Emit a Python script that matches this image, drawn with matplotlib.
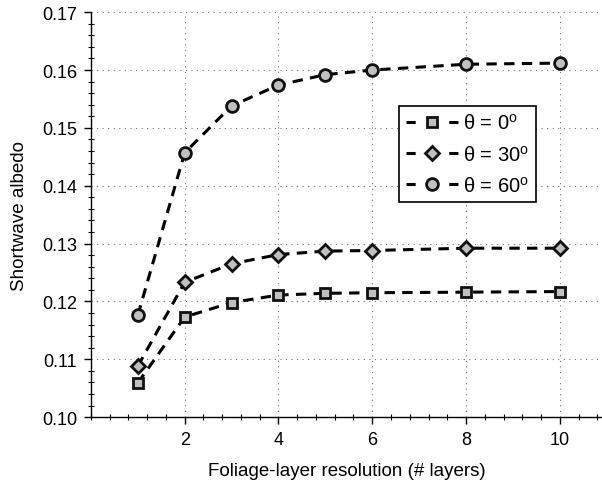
import numpy as np
import matplotlib
import matplotlib.pyplot as plt
from matplotlib.ticker import MultipleLocator

matplotlib.use("Agg")

plt.rcParams["font.family"] = ["Liberation Sans", "DejaVu Sans"]
plt.rcParams["xtick.labelsize"] = 13
plt.rcParams["ytick.labelsize"] = 13
plt.rcParams["axes.labelsize"] = 13.5

layers = [1, 2, 3, 4, 5, 6, 8, 10]
albedo_0 = [0.1059, 0.1173, 0.1198, 0.1211, 0.1214, 0.1215, 0.1216, 0.1217]
albedo_30 = [0.1088, 0.1233, 0.1265, 0.1281, 0.1287, 0.1288, 0.1292, 0.1292]
albedo_60 = [0.1176, 0.1457, 0.1538, 0.1574, 0.1592, 0.1600, 0.1610, 0.1612]

series = [
    (albedo_0, "s", 7.5, "θ = 0$^\\mathregular{o}$"),
    (albedo_30, "D", 7.5, "θ = 30$^\\mathregular{o}$"),
    (albedo_60, "o", 8.5, "θ = 60$^\\mathregular{o}$"),
]

fig = plt.figure(figsize=(6.02, 4.89), dpi=100)
ax = fig.add_axes([0.151, 0.145, 0.849, 0.828])

for vals, mk, ms, lab in series:
    ax.plot(layers, vals, color="black", linestyle=(0, (3.4, 2.4)), linewidth=2.2,
            marker=mk, markersize=ms, markerfacecolor="#c0c0c0",
            markeredgecolor="#111111", markeredgewidth=2.0, label=lab)

ax.set_xlim(0, 10.9)
ax.set_ylim(0.10, 0.17)
ax.set_xticks([2, 4, 6, 8, 10])
ax.set_yticks(np.arange(0.10, 0.1701, 0.01))
ax.set_yticklabels([f"{v:.2f}" for v in np.arange(0.10, 0.1701, 0.01)])
ax.xaxis.set_minor_locator(MultipleLocator(0.4))
ax.yaxis.set_minor_locator(MultipleLocator(0.002))
ax.tick_params(which="major", direction="out", length=5, width=1.0, pad=5)
ax.tick_params(which="minor", direction="inout", length=4, width=0.8)

ax.spines["top"].set_visible(False)
ax.spines["right"].set_visible(False)
ax.spines["left"].set_linewidth(1.0)
ax.spines["bottom"].set_linewidth(1.0)

ax.grid(True, which="major", linestyle=(0, (1, 4)), color="#777777", linewidth=0.8)
ax.set_axisbelow(True)

ax.set_xlabel("Foliage-layer resolution (# layers)", labelpad=10)
ax.set_ylabel("Shortwave albedo", labelpad=10)

leg = ax.legend(loc="upper left", bbox_to_anchor=(0.603, 0.768), fontsize=14.5,
                frameon=True, fancybox=False, edgecolor="black", framealpha=1,
                handlelength=2.6, handletextpad=0.2, borderpad=0.35,
                labelspacing=0.55, borderaxespad=0)
leg.get_frame().set_linewidth(1.2)
# legend handles: short dash - marker - short dash
for ln in leg.get_lines():
    ln.set_dashes([3.0, 11.0])

fig.savefig("out.png", dpi=100)
